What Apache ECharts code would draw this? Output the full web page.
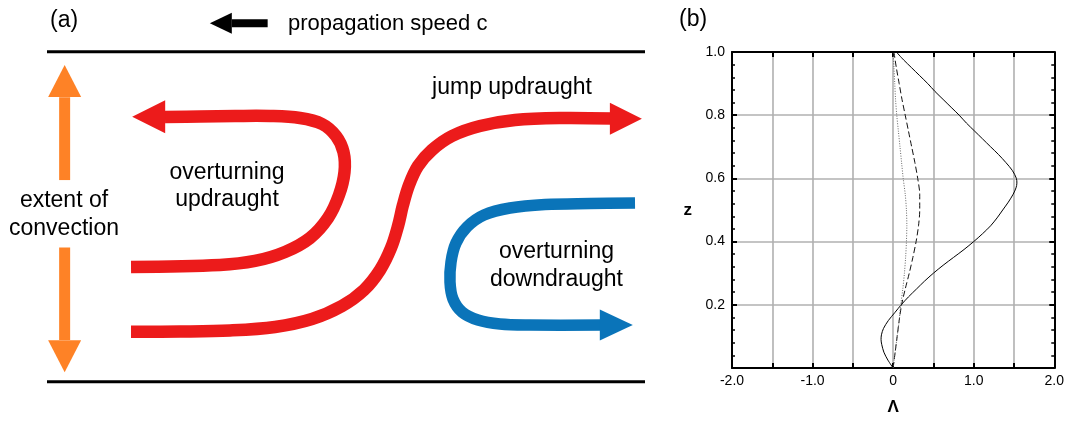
<!DOCTYPE html>
<html><head><meta charset="utf-8">
<script src="https://cdn.jsdelivr.net/npm/echarts@6/dist/echarts.min.js"></script>
<style>html,body{margin:0;padding:0;background:#fff}#c{width:1067px;height:421px}</style>
</head><body><div id="c"></div>
<script>
// ---------- Panel (b): vertical profiles Λ(z) ----------
const solidZ = [0,0.025,0.05,0.075,0.09,0.105,0.125,0.15,0.175,0.2,0.225,0.25,0.275,0.3,0.325,0.35,0.375,0.4,0.425,0.45,0.475,0.5,0.525,0.55,0.57,0.585,0.6,0.625,0.65,0.675,0.7,0.725,0.75,0.775,0.8,0.825,0.85,0.875,0.9,0.925,0.95,0.975,1.0];
const solidL = [0,-0.065,-0.115,-0.142,-0.15,-0.145,-0.12,-0.06,0.02,0.10,0.19,0.29,0.39,0.50,0.62,0.75,0.88,1.00,1.11,1.21,1.29,1.36,1.43,1.49,1.525,1.536,1.53,1.48,1.40,1.31,1.21,1.11,1.01,0.91,0.82,0.72,0.62,0.52,0.43,0.33,0.23,0.13,0.04];
const dashZ = [0,0.05,0.1,0.15,0.2,0.25,0.3,0.35,0.4,0.45,0.5,0.55,0.6,0.65,0.7,0.75,0.8,0.85,0.9,0.95,1.0];
const dashL = [0,0.025,0.05,0.075,0.105,0.15,0.20,0.245,0.285,0.315,0.33,0.33,0.305,0.27,0.23,0.19,0.15,0.11,0.075,0.04,0.01];
const dotZ = [0,0.05,0.1,0.15,0.2,0.25,0.3,0.35,0.4,0.45,0.5,0.55,0.6,0.65,0.7,0.75,0.8,0.85,0.9,0.95,1.0];
const dotL = [0,0.025,0.05,0.075,0.095,0.12,0.14,0.155,0.165,0.17,0.165,0.15,0.125,0.105,0.085,0.065,0.045,0.03,0.02,0.01,0.0];
const xTickLabels = {'-2':'-2.0','-1':'-1.0','0':'0','1':'1.0','2':'2.0'};
const yTickLabels = {'0.2':'0.2','0.4':'0.4','0.6':'0.6','0.8':'0.8','1':'1.0'};

// ---------- Panel (a): schematic, box units x 0..100, height 0..1 ----------
const overX = [14.05,28.93,34.78,39.80,43.98,46.99,48.83,49.75,49.58,48.33,45.99,42.31,37.29,31.44,25.59,19.73];
const overY = [0.3476,0.3536,0.3658,0.3930,0.4355,0.4961,0.5658,0.6355,0.6961,0.7445,0.7809,0.7991,0.8052,0.8052,0.8036,0.8021];
const jumpX = [14.05,22.24,30.60,38.13,44.31,49.33,53.01,55.69,57.53,58.70,59.53,60.54,62.04,64.38,67.73,72.41,78.26,85.79,94.48];
const jumpY = [0.1515,0.1521,0.1552,0.1658,0.1900,0.2294,0.2779,0.3385,0.4052,0.4718,0.5355,0.5961,0.6536,0.7021,0.7445,0.7748,0.7930,0.7991,0.7976];
const downX = [98.33,90.80,83.28,77.42,73.08,70.23,68.39,67.56,67.39,67.89,69.40,72.07,75.75,80.77,92.81];
const downY = [0.5415,0.5400,0.5370,0.5264,0.5052,0.4688,0.4203,0.3627,0.3021,0.2506,0.2112,0.1870,0.1748,0.1718,0.1718];
const extentX = [2.95,2.95];
const extentUpY = [0.862,0.611];
const extentDownY = [0.407,0.126];
const propX = [30.9,36.9];
const propY = [1.086,1.086];
const boxX = [0,100];
// arrow heads: [x, y] centres
const headOver = [17.0,0.803];
const headJump = [96.8,0.797];
const headDown = [95.2,0.172];
const headUp = [2.95,0.911];
const headLow = [2.95,0.0774];
const headProp = [29.07,1.086];

const RED = '#ec1b1b', BLUE = '#0a74b9', ORANGE = '#fe8226';
const FONT = 'Liberation Sans, Arial, Helvetica, sans-serif';
const zip = (a, b) => a.map((v, i) => [v, b[i]]);

function pathSeries(xs, ys, color, width) {
  return {type:'line', xAxisIndex:0, yAxisIndex:0, data:zip(xs, ys), symbol:'none',
    clip:false, silent:true, lineStyle:{color:color, width:width, cap:'butt'}, z:3};
}
// smooth flow path: points mapped through the cartesian scales with api.coord
function flowSeries(xs, ys, color, width) {
  return {type:'custom', coordinateSystem:'cartesian2d', xAxisIndex:0, yAxisIndex:0, silent:true, z:3,
    data:[[xs[0], ys[0]]],
    renderItem:(params, api) => ({
      type:'polyline',
      shape:{points:xs.map((x, i) => api.coord([x, ys[i]])), smooth:0.35},
      style:{stroke:color, lineWidth:width, fill:null, lineCap:'butt', lineJoin:'round'}
    })};
}
function head(pt, rot, size, color) {
  return {value:pt, symbol:'triangle', symbolRotate:rot, symbolSize:size, itemStyle:{color:color, opacity:1}};
}

const chart = echarts.init(document.getElementById('c'), null, {renderer:'canvas'});
const axisBlack = {color:'#000', width:2};
chart.setOption({
  animation:false,
  backgroundColor:'#fff',
  grid:[
    {left:47, top:51.7, width:598, height:330},
    {left:732, top:52, width:325, height:328}
  ],
  xAxis:[
    {gridIndex:0, type:'value', min:0, max:100, show:false},
    {gridIndex:1, type:'value', min:-2, max:2, interval:0.5, position:'bottom',
      axisLine:{show:true, onZero:false, lineStyle:axisBlack},
      axisTick:{show:true, inside:true, length:5, lineStyle:axisBlack},
      axisLabel:{show:true, showMinLabel:true, showMaxLabel:true, margin:6, color:'#000', fontSize:14, fontFamily:FONT,
        formatter:v => { const k = String(Math.round(v*10)/10); return xTickLabels[k] || ''; }},
      splitLine:{show:true, lineStyle:{color:'#b0b0b0', width:1.6}},
      name:'Λ', nameLocation:'middle', nameGap:31,
      nameTextStyle:{color:'#000', fontSize:17, fontWeight:'bold', fontFamily:FONT}},
    {gridIndex:1, type:'value', min:-2, max:2, interval:0.5, position:'top',
      axisLine:{show:true, onZero:false, lineStyle:axisBlack},
      axisTick:{show:true, inside:true, length:5, lineStyle:axisBlack},
      axisLabel:{show:false}, splitLine:{show:false}}
  ],
  yAxis:[
    {gridIndex:0, type:'value', min:0, max:1, show:false},
    {gridIndex:1, type:'value', min:0, max:1, interval:0.2, position:'left',
      axisLine:{show:true, onZero:false, lineStyle:axisBlack},
      axisTick:{show:true, inside:true, length:5, lineStyle:axisBlack},
      minorTick:{show:true, splitNumber:5, length:3, lineStyle:{color:'#000', width:1.5}},
      axisLabel:{show:true, showMinLabel:true, showMaxLabel:true, margin:7, color:'#000', fontSize:14, fontFamily:FONT,
        formatter:v => { const k = String(Math.round(v*10)/10); return yTickLabels[k] || ''; }},
      splitLine:{show:true, lineStyle:{color:'#b0b0b0', width:1.6}},
      name:'z', nameLocation:'middle', nameGap:40, nameRotate:0,
      nameTextStyle:{color:'#000', fontSize:17, fontWeight:'bold', fontFamily:FONT}},
    {gridIndex:1, type:'value', min:0, max:1, interval:0.2, position:'right',
      axisLine:{show:true, onZero:false, lineStyle:axisBlack},
      axisTick:{show:true, inside:true, length:5, lineStyle:axisBlack},
      minorTick:{show:true, splitNumber:5, length:3, lineStyle:{color:'#000', width:1.5}},
      axisLabel:{show:false}, splitLine:{show:false}}
  ],
  series:[
    // panel (a)
    pathSeries(boxX, [1,1], '#000', 3),
    pathSeries(boxX, [0,0], '#000', 3),
    pathSeries(propX, propY, '#000', 8),
    pathSeries(extentX, extentUpY, ORANGE, 11),
    pathSeries(extentX, extentDownY, ORANGE, 11),
    flowSeries(overX, overY, RED, 12.5),
    flowSeries(jumpX, jumpY, RED, 12.5),
    flowSeries(downX, downY, BLUE, 11.5),
    {type:'scatter', xAxisIndex:0, yAxisIndex:0, clip:false, silent:true, z:4,
      data:[
        head(headOver, 90, [33,33], RED),
        head(headJump, -90, [32,32], RED),
        head(headDown, -90, [31,33], BLUE),
        head(headUp, 0, [33,32], ORANGE),
        head(headLow, 180, [33,32], ORANGE),
        head(headProp, 90, [21,22], '#000')
      ]},
    // panel (b)
    {type:'line', xAxisIndex:1, yAxisIndex:1, data:zip(solidL, solidZ), symbol:'none', smooth:0.3,
      lineStyle:{color:'#000', width:1}, z:5},
    {type:'line', xAxisIndex:1, yAxisIndex:1, data:zip(dashL, dashZ), symbol:'none', smooth:0.3,
      lineStyle:{color:'#111', width:1, type:[6,3]}, z:5},
    {type:'line', xAxisIndex:1, yAxisIndex:1, data:zip(dotL, dotZ), symbol:'none', smooth:0.3,
      lineStyle:{color:'#666', width:1, type:[1,1.5]}, z:5}
  ],
  graphic:[
    {type:'text', style:{text:'(a)', x:50, y:21, font:'23px '+FONT, fill:'#000', align:'left', textAlign:'left', verticalAlign:'middle', textVerticalAlign:'middle'}},
    {type:'text', style:{text:'propagation speed c', x:288, y:24, font:'22px '+FONT, fill:'#000', align:'left', textAlign:'left', verticalAlign:'middle', textVerticalAlign:'middle'}},
    {type:'text', style:{text:'jump updraught', x:512, y:87.5, font:'23px '+FONT, fill:'#000', align:'center', textAlign:'center', verticalAlign:'middle', textVerticalAlign:'middle'}},
    {type:'text', style:{text:'overturning\nupdraught', x:227, y:186, lineHeight:27.5, font:'23px '+FONT, fill:'#000', align:'center', textAlign:'center', verticalAlign:'middle', textVerticalAlign:'middle'}},
    {type:'text', style:{text:'extent of\nconvection', x:64, y:214.5, lineHeight:28.5, font:'23px '+FONT, fill:'#000', align:'center', textAlign:'center', verticalAlign:'middle', textVerticalAlign:'middle'}},
    {type:'text', style:{text:'overturning\ndowndraught', x:556.5, y:265.5, lineHeight:27.5, font:'23px '+FONT, fill:'#000', align:'center', textAlign:'center', verticalAlign:'middle', textVerticalAlign:'middle'}},
    {type:'text', style:{text:'(b)', x:679, y:20, font:'23px '+FONT, fill:'#000', align:'left', textAlign:'left', verticalAlign:'middle', textVerticalAlign:'middle'}}
  ]
});
</script></body></html>
